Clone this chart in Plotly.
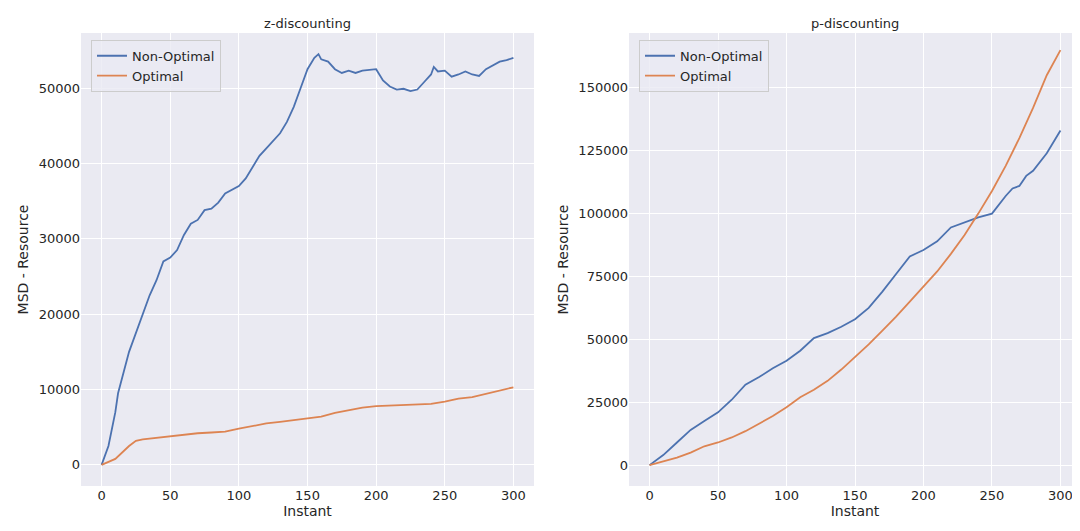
import plotly.graph_objects as go
from plotly.subplots import make_subplots

zx_no = [0,5,10,12,20,30,35,40,45,50,55,60,65,70,75,80,85,90,95,100,105,110,115,120,125,130,135,140,145,150,155,158,160,165,170,175,180,185,190,195,200,205,210,215,220,225,230,235,240,242,245,250,255,260,265,270,275,280,285,290,295,300]
zy_no = [0,2500,7000,9500,15000,20000,22500,24500,27000,27500,28500,30500,32000,32500,33800,34000,34800,36000,36500,37000,38000,39500,41000,42000,43000,44000,45500,47500,50000,52500,54000,54500,53800,53500,52500,52000,52300,52000,52300,52400,52500,51000,50200,49800,49900,49600,49800,50800,51800,52800,52200,52300,51500,51800,52200,51800,51600,52500,53000,53500,53700,54000]
zx_op = [0,10,20,25,30,40,50,60,70,80,90,100,110,120,130,140,145,160,170,180,190,200,210,220,230,240,250,260,270,280,290,300]
zy_op = [0,800,2500,3200,3400,3600,3800,4000,4200,4300,4400,4800,5200,5500,5700,5900,6100,6400,6900,7300,7600,7800,7900,7900,8000,8100,8400,8800,9000,9400,9800,10300]
px_no = [0,10,20,30,40,50,60,70,80,90,100,110,120,130,140,150,160,170,180,190,200,210,220,230,240,250,255,260,265,270,275,280,290,300]
py_no = [0,4000,9000,14000,17500,21000,26000,32000,35000,38500,41500,45500,50500,52500,55000,58000,62500,69000,76000,83000,85500,89000,94500,96500,98500,100000,103500,107000,110000,111000,115000,117000,124000,133000]
px_op = list(range(0,301,10))
py_op = [0,1500,3000,5000,7500,9000,11000,13500,16500,19500,23000,27000,30000,33500,38000,43000,48000,53500,59000,65000,71000,77000,84000,91500,100000,109000,119000,130000,142000,155000,165000]

BLUE, ORANGE = "#4C72B0", "#DD8452"
TXT = "#262626"
fig = make_subplots(rows=1, cols=2, subplot_titles=("z-discounting", "p-discounting"))
fig.add_trace(go.Scatter(x=zx_no, y=zy_no, mode="lines", name="Non-Optimal", line=dict(color=BLUE, width=1.8), legend="legend"), 1, 1)
fig.add_trace(go.Scatter(x=zx_op, y=zy_op, mode="lines", name="Optimal", line=dict(color=ORANGE, width=1.8), legend="legend"), 1, 1)
fig.add_trace(go.Scatter(x=px_no, y=py_no, mode="lines", name="Non-Optimal", line=dict(color=BLUE, width=1.8), legend="legend2"), 1, 2)
fig.add_trace(go.Scatter(x=px_op, y=py_op, mode="lines", name="Optimal", line=dict(color=ORANGE, width=1.8), legend="legend2"), 1, 2)

ax = dict(showgrid=True, gridcolor="white", gridwidth=1, zeroline=False, showline=False, ticks="", tickformat="d", tickfont=dict(size=13, color=TXT))
fig.update_xaxes(**ax, range=[-15, 315], dtick=50, title=dict(text="Instant", font=dict(size=14, color=TXT), standoff=4))
fig.update_yaxes(**ax, title=dict(text="MSD - Resource", font=dict(size=14, color=TXT), standoff=6))
fig.update_yaxes(range=[-2800, 57300], dtick=10000, row=1, col=1)
fig.update_yaxes(range=[-8300, 171800], dtick=25000, row=1, col=2)
fig.update_xaxes(domain=[0, 0.453], row=1, col=1)
fig.update_xaxes(domain=[0.548, 1], row=1, col=2)
fig.layout.annotations[0].x = 0.2265
fig.layout.annotations[1].x = 0.774
for a in fig.layout.annotations:
    a.font = dict(size=13, color=TXT)
legbase = dict(y=0.985, xanchor="left", yanchor="top", bgcolor="rgba(234,234,242,0.8)", bordercolor="#CCCCCC", borderwidth=1, font=dict(size=13, color=TXT), tracegroupgap=0)
fig.update_layout(
    width=1080, height=531, plot_bgcolor="#EAEAF2", paper_bgcolor="white",
    font=dict(family="DejaVu Sans"), margin=dict(l=73, r=7, t=25, b=53),
    legend=dict(x=0.01, **legbase),
    legend2=dict(x=0.558, **legbase),
)
fig.write_html("out.html")
